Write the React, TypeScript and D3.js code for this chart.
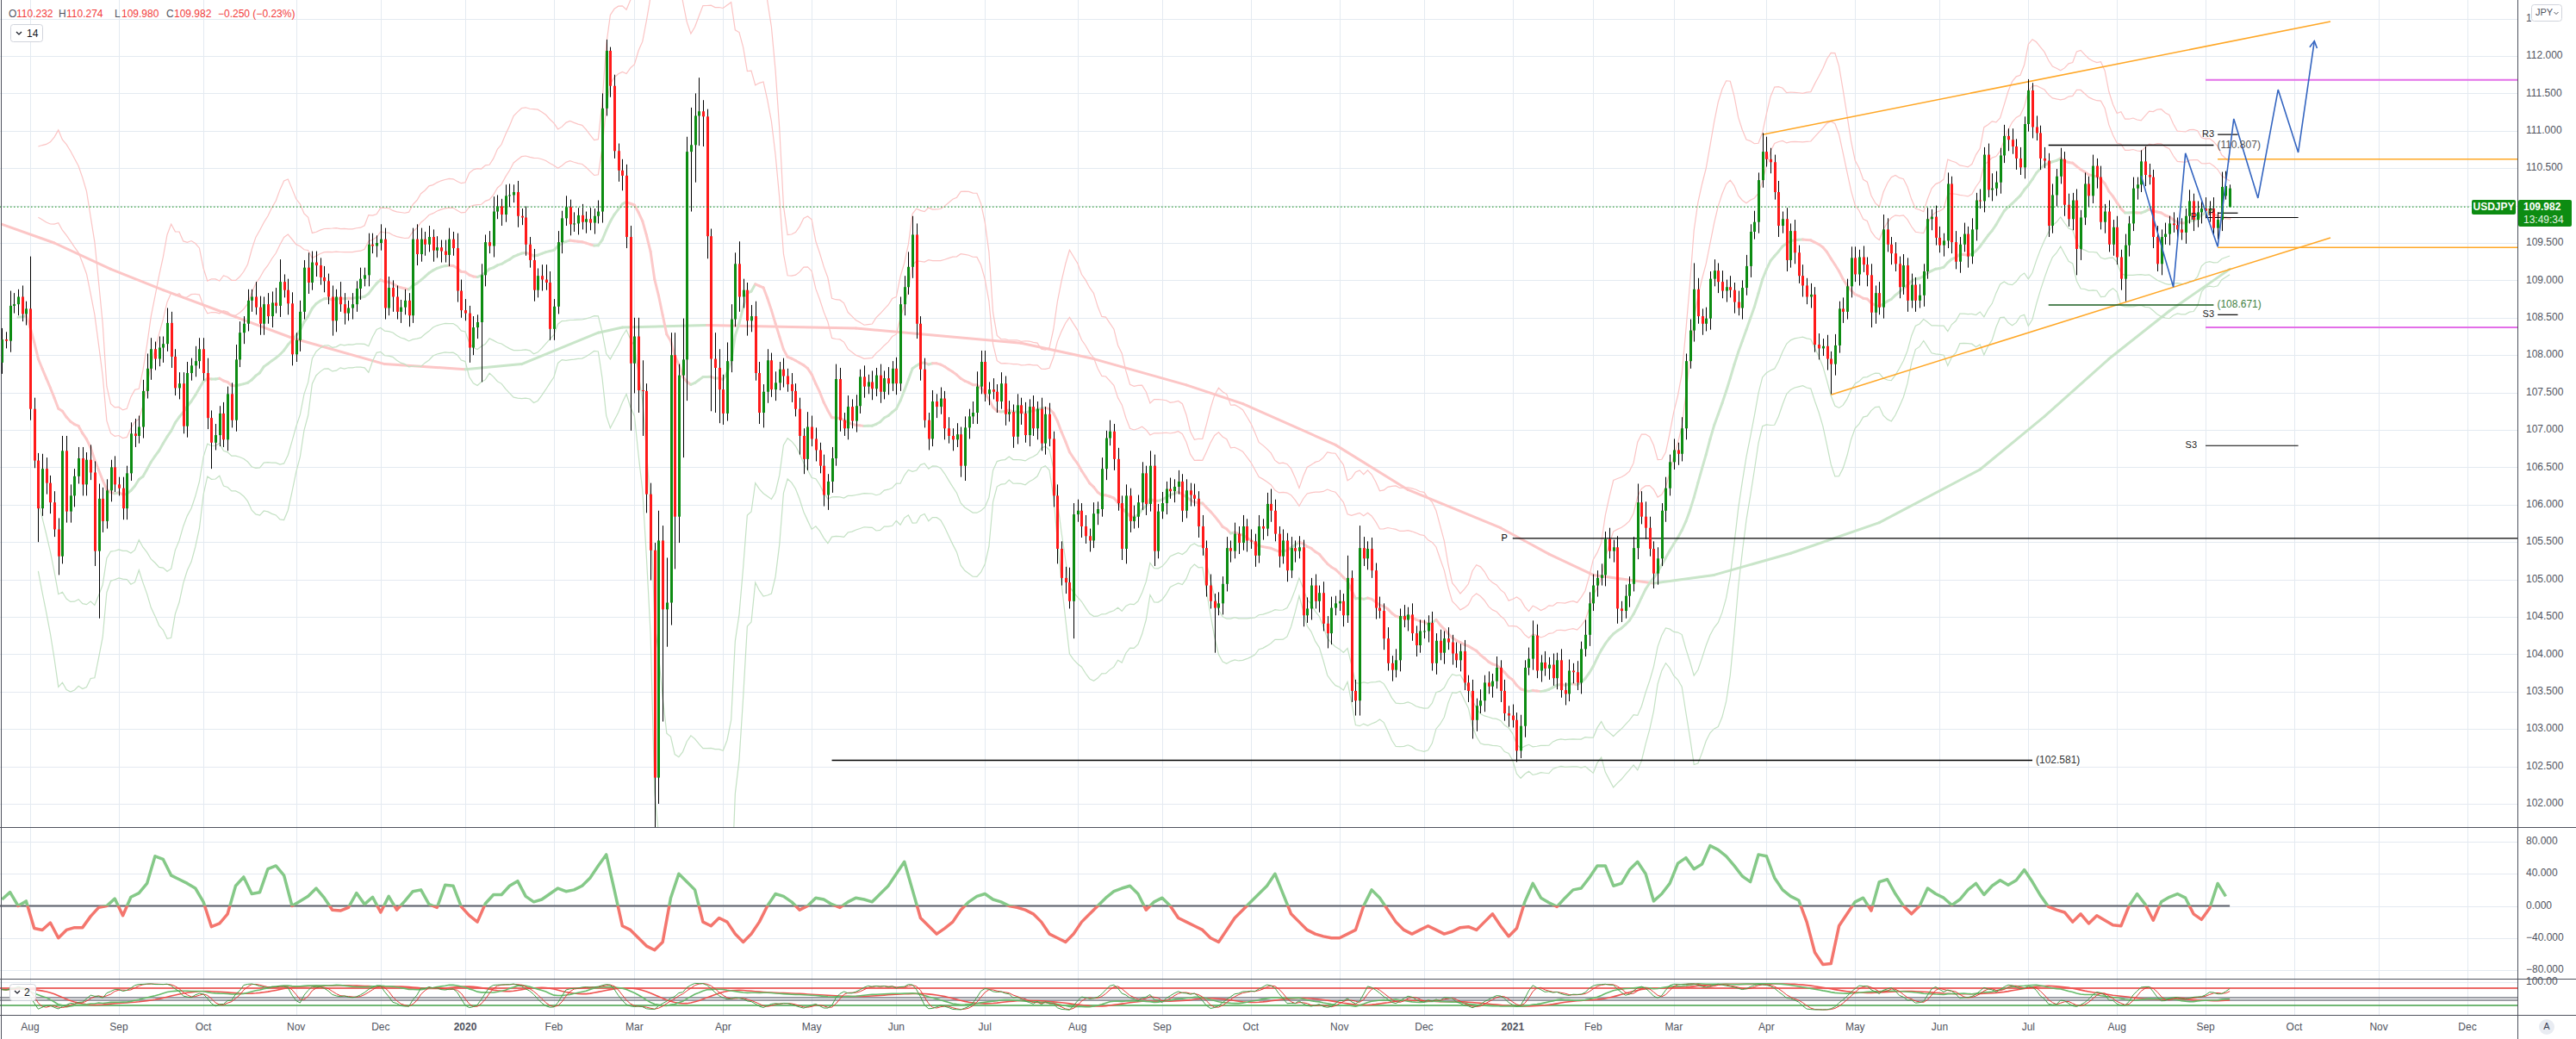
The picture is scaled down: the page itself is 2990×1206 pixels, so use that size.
import React from 'react';
import * as d3 from 'd3';

// ---------------- data ----------------
const firstBarDate = '2019-07-23';
const axisEndDate = '2021-12-31';
const firstOpen = 107.9;
const wickUnit = 0.05;

// daily closes, one sub-array per month (2019 starts in July)
const close2019 = [
  [108.21, 108.19, 108.66, 108.68, 108.78, 108.55, 108.62],
  [107.28, 106.59, 105.95, 106.48, 106.29, 106.03, 105.67, 105.31, 106.72, 105.91, 106.12, 106.38, 106.62, 106.27, 106.60, 106.43, 105.38, 106.08, 105.78, 106.19, 106.50, 106.27],
  [106.22, 105.95, 106.42, 106.95, 106.92, 107.04, 107.52, 107.82, 108.08, 107.95, 108.10, 108.15, 108.43, 107.98, 107.56, 107.62, 107.05, 107.76, 107.86, 107.92, 108.08],
  [107.76, 107.16, 106.83, 106.93, 107.22, 106.87, 107.48, 107.13, 107.94, 108.30, 108.42, 108.73, 108.78, 108.64, 108.42, 108.68, 108.52, 108.70, 108.66, 108.98, 108.87, 108.69, 108.01],
  [108.20, 108.58, 109.17, 108.97, 109.24, 109.20, 109.04, 108.99, 108.78, 108.46, 108.78, 108.68, 108.56, 108.63, 108.68, 108.89, 109.02, 109.07, 109.48, 109.46, 109.50],
  [109.55, 108.63, 108.90, 108.78, 108.58, 108.64, 108.73, 108.53, 109.55, 109.35, 109.55, 109.48, 109.58, 109.40, 109.44, 109.39, 109.34, 109.55, 109.43, 108.86, 108.60],
];
const upperWick2019 = ['3243232', 'e324323344323324343323', '232343343232432333243', '34232323432324323346233', '232433232324323232332', '433232323432323233243'];
const lowerWick2019 = ['3232323', '32923325233323324i3232', '233232323324232323232', '23723232323232332323233', '232323232432323232323', '232423232323232323232'];

const close2020 = [
  [108.56, 108.10, 108.37, 108.44, 109.07, 109.51, 109.46, 109.92, 109.99, 109.88, 110.13, 110.14, 110.18, 109.86, 109.84, 109.48, 109.27, 108.87, 109.06, 109.01, 108.97, 108.35],
  [108.65, 109.51, 109.83, 109.98, 109.75, 109.76, 109.87, 109.78, 109.82, 109.77, 109.86, 109.92, 111.30, 112.07, 111.60, 110.73, 110.47, 110.40, 109.58, 107.89],
  [108.25, 107.53, 107.52, 106.14, 105.39, 102.35, 105.52, 104.60, 104.69, 108.00, 105.84, 107.73, 107.94, 110.72, 110.81, 111.20, 111.26, 111.19, 109.59, 107.95, 107.83, 107.54],
  [107.22, 107.92, 108.48, 109.22, 108.78, 108.87, 108.46, 108.52, 107.76, 107.23, 107.51, 107.93, 107.54, 107.63, 107.81, 107.72, 107.61, 107.52, 107.28, 106.92, 106.61, 107.04],
  [106.88, 106.73, 106.52, 106.13, 106.31, 106.62, 107.68, 107.13, 107.02, 107.31, 107.12, 107.32, 107.71, 107.58, 107.64, 107.55, 107.73, 107.51, 107.69, 107.62, 107.82],
  [107.62, 108.68, 108.91, 109.18, 109.61, 108.42, 107.81, 107.13, 106.88, 107.38, 107.31, 107.42, 107.02, 106.92, 106.87, 106.94, 106.52, 107.03, 107.18, 107.23, 107.58, 107.91],
  [107.48, 107.54, 107.51, 107.38, 107.62, 107.21, 107.24, 106.91, 107.33, 107.22, 106.93, 107.31, 107.02, 107.28, 106.82, 107.21, 106.88, 106.12, 105.41, 105.02, 104.96, 104.71, 105.87],
  [105.92, 105.71, 105.58, 105.52, 105.88, 105.94, 106.48, 106.89, 106.98, 106.61, 106.02, 105.41, 106.12, 105.78, 105.84, 106.03, 106.42, 106.01, 106.52, 105.38, 105.91],
  [106.02, 106.21, 106.18, 106.24, 106.31, 105.92, 106.19, 106.13, 106.08, 105.71, 105.42, 104.92, 104.71, 104.62, 104.68, 104.94, 105.42, 105.38, 105.61, 105.49, 105.71, 105.52],
  [105.51, 105.32, 105.71, 105.68, 106.01, 105.92, 105.61, 105.31, 105.52, 105.12, 105.42, 105.38, 105.43, 104.52, 104.61, 104.92, 104.71, 104.82, 104.41, 104.28, 104.62, 104.68],
  [104.71, 104.52, 105.02, 103.51, 103.38, 105.42, 105.28, 105.41, 105.12, 104.62, 104.58, 104.21, 103.88, 103.79, 103.92, 104.51, 104.46, 104.53, 104.28, 104.12, 104.31],
  [104.31, 104.42, 103.88, 104.18, 104.02, 104.21, 104.16, 104.01, 103.92, 104.04, 103.62, 103.51, 103.12, 103.31, 103.38, 103.62, 103.57, 103.64, 103.82, 103.51, 103.21, 103.18],
];
const upperWick2020 = ['3232323432332323232343', '23232323232343132333', '55823284c663b4a6932275', '4543632343232323232324', '332323432323232323232', '3234532323232323232343', '32323232323232323232343', '323232323232323232432', '3232323232323232323232', '3232343232323232323232', '326236323232323232323', '3232323232323232323232'];
const lowerWick2020 = ['2423g32323232323232323', '3232323232323232343i', '86c58n7ua6e7mbga886ec9', '3232434323432323232543', '232343232323232323232', '3232343232323232343232', '2323232323232323234232a', '232323232323432323242', '2323232323232c23232323', '2323232323232323232432', '232344232323232323232', '2323232323235323232323'];

const close2021 = [
  [103.12, 102.71, 103.04, 103.82, 103.94, 104.25, 103.78, 103.89, 103.81, 103.86, 103.68, 103.92, 103.52, 103.47, 103.78, 103.76, 103.62, 104.07, 104.26, 104.68],
  [104.92, 105.02, 105.06, 105.54, 105.38, 105.43, 104.61, 104.58, 104.78, 104.94, 105.42, 106.03, 105.84, 105.69, 105.41, 105.08, 105.28, 105.92, 106.22, 106.57],
  [106.73, 106.68, 107.02, 107.92, 108.33, 108.88, 108.52, 108.42, 108.49, 109.02, 109.13, 108.98, 108.86, 108.91, 108.87, 108.71, 108.63, 108.90, 109.19, 109.65, 109.78, 110.34, 110.72],
  [110.62, 110.58, 110.18, 109.73, 109.82, 109.27, 109.66, 109.37, 109.06, 108.93, 108.78, 108.81, 108.14, 108.09, 108.12, 107.95, 107.88, 108.13, 108.62, 108.58, 108.92, 109.30],
  [109.08, 109.31, 109.21, 109.07, 108.57, 108.83, 108.64, 109.68, 109.48, 109.36, 109.22, 108.91, 109.20, 108.73, 108.94, 108.73, 108.80, 109.12, 109.82, 109.85, 109.57],
  [109.47, 109.53, 110.29, 109.51, 109.25, 109.48, 109.62, 109.32, 109.68, 110.07, 110.06, 110.68, 110.21, 110.23, 110.31, 110.67, 110.93, 110.88, 110.79, 110.63, 110.51, 111.09],
  [111.54, 111.05, 110.97, 110.63, 110.60, 109.73, 110.14, 110.39, 110.62, 110.01, 109.82, 110.07, 109.42, 109.84, 110.29, 110.13, 110.53, 110.38, 109.78, 109.92, 109.48, 109.71],
  [109.31, 109.02, 109.47, 109.76, 110.23, 110.28, 110.59, 110.41, 110.38, 109.58, 109.22, 109.58, 109.62, 109.76, 109.74, 109.68, 109.64, 109.86, 110.06, 109.81, 109.91, 109.96],
  [109.93, 109.96, 109.70, 109.81, 110.25, 110.26, 110.23],
];
const upperWick2021 = ['32323432323232323243', '32323232323534323232', '32323732323232323232325', '4323232323232323232323', '323232343232323232323', '3232323232323432323232', '3232323232323232323232', '3232323432323232323232', '3232441'];
const lowerWick2021 = ['23232323232323232323', '23232343232323243232', '23232323232323232323232', '2323232323232323832323', '232343232323232323232', '2323232323232323232323', '2323232323237323232323', '2363232323232323232323', '2323310'];

const openOverrides: [string, number][] = [['2021-09-08', 110.13], ['2021-09-09', 109.98]];

// header / last price
const headerKeys = ['O', 'H', 'L', 'C'];
const headerNums = ['110.232', '110.274', '109.980', '109.982'];
const headerChange = '\u22120.250 (\u22120.23%)';
const lastPrice = 109.982;
const lastPriceText = '109.982';
const countdownText = '13:49:34';
const symbolText = 'USDJPY';
const currencyText = 'JPY';

// oscillator (one value every 2 bars)
const oscPart1 = [8, 17, 0, 6, -28, -30, -21, -40, -30, -27, -27, -13, -2, 0, 9, -12, 11, 16, 28, 62, 58, 38, 33, 28, 22, 5, -26, -22, -10, 25, 36, 15, 17, 46, 50, 38, 0, 6, 12, 22, 10, -5, -6, -2, 16, 2, 11, -8, 12, -5, 6, 18, 20, 2, -2, 26, 25, -1, -12, -20, 3, 14, 14, 25, 31];
const oscPart2 = [12, 5, 8, 15, 22, 18, 20, 25, 35, 50, 64, 20, -25, -30, -40, -50, -55, -45, 10, 40, 30, 20, -20, -25, -15, -20, -35, -45, -35, -20, 0, 15, 12, 5, -5, 0, 10, 8, 2, -2, 5, 10, 8, 5, 15, 25, 40, 55, 20, -15, -25, -35, -28, -20, -5, 5, 12, 15, 8, 5, 0, -2, -5, -10, -20, -35, -40, -45, -35, -20, -10, 0, 10, 18, 22, 25, 15, -5, 5, 10, 0, -15, -20, -25, -30, -40, -45, -30, -15, -5, 5, 15, 25, 40, 15, -10, -20, -30, -35, -38, -40, -40, -35, -30, 0, 20, 10, -5, -20, -30, -35, -30, -25, -30, -35, -32];
const oscPart3 = [-27, -26, -30, -20, -10, -25, -38, -28, 5, 28, 10, 4, -1, 10, 20, 22, 35, 50, 50, 25, 28, 45, 55, 40, 6, 15, 28, 53, 60, 46, 52, 75, 70, 62, 50, 37, 30, 64, 62, 35, 20, 12, 7, -20, -58, -73, -72, -25, -10, 5, 10, -6, 30, 33, 15, 0, -10, 0, 22, 15, 10, 1, 8, 20, 28, 14, 25, 32, 26, 32, 45, 30, 13, -1, -5, -8, -20, -10, -22, -12, -18, -24, -25, 0, 15, 2, -18, 5, 11, 15, 10, -10, -17, -3, 28, 12];
const oscStepBars = 2;
const oscTicks = [80, 40, 0, -40, -80];

// long moving average
const longMaDates = ['2019-07-23', '2019-08-09', '2019-08-29', '2019-09-17', '2019-10-11', '2019-10-31', '2019-12-03', '2020-01-02', '2020-01-22', '2020-02-18', '2020-02-26', '2020-03-26', '2020-05-18', '2020-07-14', '2020-08-07', '2020-09-09', '2020-09-29', '2020-10-30', '2020-11-25', '2020-12-29', '2021-01-15', '2021-02-01', '2021-02-22', '2021-03-15', '2021-04-09', '2021-05-11', '2021-06-15', '2021-07-07', '2021-07-29', '2021-08-19', '2021-09-09'];
const longMaValues = [109.75, 109.5, 109.15, 108.87, 108.51, 108.23, 107.88, 107.81, 107.88, 108.3, 108.37, 108.4, 108.36, 108.16, 107.95, 107.6, 107.35, 106.8, 106.2, 105.69, 105.34, 105.06, 104.95, 105.06, 105.35, 105.76, 106.47, 107.18, 107.95, 108.59, 109.15];

// drawings
const channelUpperDates = ['2021-03-31', '2021-10-14'];
const channelUpperPrices = [110.95, 112.46];
const channelLowerDates = ['2021-04-23', '2021-10-14'];
const channelLowerPrices = [107.47, 109.57];
const zigzagDates = ['2021-08-10', '2021-08-20', '2021-08-25', '2021-09-06', '2021-09-10', '2021-09-20', '2021-09-27', '2021-10-04', '2021-10-08'];
const zigzagPrices = [110.4, 108.91, 110.7, 109.45, 111.16, 110.1, 111.55, 110.71, 112.2];
const orangeLevels = [110.62, 109.44];
const orangeFrom = '2021-09-06';
const magentaLevels = [111.68, 108.37];
const magentaFrom = '2021-09-01';
const rangeLevels = [110.807, 108.671];
const rangeFrom = '2021-07-08';
const rangeTo = '2021-09-03';
const lowLevel = 102.581;
const lowFrom = '2020-05-08';
const lowTo = '2021-07-02';
const pivotShortNames = ['R3', 'P', 'S3'];
const pivotShortPrices = [110.95, 109.9, 108.54];
const pivotShortFrom = '2021-09-06';
const pivotShortTo = '2021-09-13';
const pivotLongNames = ['P', 'S3'];
const pivotLongPrices = [109.84, 106.79];
const pivotLongFrom = '2021-09-01';
const pivotLongTo = '2021-10-04';
const yearPivot = 105.55;
const yearPivotFrom = '2021-01-04';
const stochLevels = [80, 47, 38, 20];

// ---------------- helpers ----------------
const iso = (d: Date) => d.toISOString().slice(0, 10);
function tradingDays(start: string, end: string) {
  const out: Date[] = [];
  const d = new Date(start + 'T00:00:00Z');
  const e = new Date(end + 'T00:00:00Z');
  while (d <= e) {
    const wd = d.getUTCDay();
    const m = d.getUTCMonth();
    const dd = d.getUTCDate();
    const hol = (m === 11 && dd === 25) || (m === 0 && dd === 1);
    if (wd !== 0 && wd !== 6 && !hol) out.push(new Date(d));
    d.setUTCDate(d.getUTCDate() + 1);
  }
  return out;
}

const W = 2990;
const H = 1206;
const AX = 2922;
const MAIN_B = 960;
const OSC_B = 1136;
const ST_B = 1178;
const GREEN = '#0d8c12';
const RED = '#ff1a1a';
const GRID = '#e4eaf1';
const TXT = '#50535e';
const FONT = 'Liberation Sans, Arial, sans-serif';

export default function App() {
  const days = tradingDays(firstBarDate, axisEndDate);
  const dayIndex = new Map<string, number>();
  days.forEach((d, i) => dayIndex.set(iso(d), i));
  const idx = (s: string) => {
    const d = new Date(s + 'T00:00:00Z');
    for (let k = 0; k < 10; k++) {
      const v = dayIndex.get(iso(d));
      if (v !== undefined) return v;
      d.setUTCDate(d.getUTCDate() + 1);
    }
    return 0;
  };
  const monthDays = d3.group(days.map((d, i) => ({ key: iso(d).slice(0, 7), i, date: iso(d) })), (e) => e.key);

  // bars
  const blocks = [
    { year: 2019, firstMonth: 7, closes: close2019, up: upperWick2019, dn: lowerWick2019 },
    { year: 2020, firstMonth: 1, closes: close2020, up: upperWick2020, dn: lowerWick2020 },
    { year: 2021, firstMonth: 1, closes: close2021, up: upperWick2021, dn: lowerWick2021 },
  ];
  const ovr = new Map(openOverrides);
  const bars: { i: number; date: string; o: number; h: number; l: number; c: number }[] = [];
  let prev = firstOpen;
  blocks.forEach((b) => {
    b.closes.forEach((arr, j) => {
      const key = `${b.year}-${String(b.firstMonth + j).padStart(2, '0')}`;
      const md = monthDays.get(key) || [];
      arr.forEach((c, k) => {
        const e = md[k];
        if (!e) return;
        const o = ovr.has(e.date) ? (ovr.get(e.date) as number) : prev;
        const hu = parseInt((b.up[j] || '')[k] || '2', 36) * wickUnit;
        const ld = parseInt((b.dn[j] || '')[k] || '2', 36) * wickUnit;
        bars.push({ i: e.i, date: e.date, o, c, h: Math.max(o, c) + hu, l: Math.min(o, c) - ld });
        prev = c;
      });
    });
  });

  const x = d3.scaleLinear().domain([0, idx('2021-12-01')]).range([2.3, 2864]);
  const y = d3.scaleLinear().domain([102, 112]).range([933, 65]);
  const yOsc = d3.scaleLinear().domain([-80, 80]).range([1126, 977]);
  const ySt = d3.scaleLinear().domain([0, 100]).range([1173.7, 1140.3]);
  const xd = (s: string) => x(idx(s));
  const lastX = x(bars[bars.length - 1].i);

  // month ticks
  const monthTicks: { x: number; label: string; year: boolean }[] = [];
  for (const [key, arr] of monthDays) {
    if (key < '2019-08') continue;
    const first = arr[0];
    const dt = new Date(first.date + 'T00:00:00Z');
    const isYear = dt.getUTCMonth() === 0;
    monthTicks.push({ x: x(first.i), label: isYear ? String(dt.getUTCFullYear()) : d3.utcFormat('%b')(dt), year: isYear });
  }
  const priceTicks = d3.range(102, 112.51, 0.5);

  // Bollinger bands (20) with 2 and 3 deviations
  const closes = bars.map((b) => b.c);
  const bb = bars.map((b, i) => {
    const w = closes.slice(Math.max(0, i - 19), i + 1);
    const m = d3.mean(w) as number;
    const sd = Math.sqrt(d3.mean(w, (v) => (v - m) ** 2) as number);
    return { i: b.i, m, sd, n: i };
  });
  const bbLine = (f: (p: { m: number; sd: number }) => number) =>
    d3.line<any>().x((p) => x(p.i)).y((p) => y(f(p)))(bb.filter((p) => p.n >= 9)) || '';

  // stochastic
  const sma = (arr: number[], n: number) => arr.map((_, i) => d3.mean(arr.slice(Math.max(0, i - n + 1), i + 1)) as number);
  const stoch = (len: number, sk: number, sd: number) => {
    const raw = bars.map((b, i) => {
      const w = bars.slice(Math.max(0, i - len + 1), i + 1);
      const hh = d3.max(w, (v) => v.h) as number;
      const ll = d3.min(w, (v) => v.l) as number;
      return hh - ll > 0 ? (100 * (b.c - ll)) / (hh - ll) : 50;
    });
    const k = sma(raw, sk);
    return { k, d: sma(k, sd) };
  };
  const fast = stoch(14, 3, 3);
  const slow = stoch(60, 10, 10);
  const stLine = (vals: number[]) => d3.line<number>().x((_, i) => x(bars[i].i)).y((v) => ySt(v))(vals) || '';

  // oscillator
  const osc = [...oscPart1, ...oscPart2, ...oscPart3];
  const oscPath = d3.line<number>().x((_, k) => x(k * oscStepBars)).y((v) => yOsc(v))(osc) || '';

  // slope-coloured segments
  const slopeSegs = (pts: { x: number; v: number }[]) =>
    pts.slice(1).map((p, k) => ({ x1: pts[k].x, y1: y(pts[k].v), x2: p.x, y2: y(p.v), up: p.v >= pts[k].v }));
  const basisSegs = slopeSegs(bb.filter((p) => p.n >= 4).map((p) => ({ x: x(p.i), v: p.m })));
  const longSegs = slopeSegs(longMaDates.map((d, k) => ({ x: xd(d), v: longMaValues[k] })));

  const zz = zigzagDates.map((d, k) => [xd(d), y(zigzagPrices[k])] as [number, number]);
  const zzEnd = zz[zz.length - 1];
  const zzPrev = zz[zz.length - 2];
  const ang = Math.atan2(zzEnd[1] - zzPrev[1], zzEnd[0] - zzPrev[0]);
  const ah = 9;
  const arrow = `M${zzEnd[0] + ah * Math.cos(ang + Math.PI - 0.5)},${zzEnd[1] + ah * Math.sin(ang + Math.PI - 0.5)}L${zzEnd[0]},${zzEnd[1]}L${zzEnd[0] + ah * Math.cos(ang + Math.PI + 0.5)},${zzEnd[1] + ah * Math.sin(ang + Math.PI + 0.5)}`;

  const yLast = y(lastPrice);
  const y0 = yOsc(0);

  return (
    <svg width={W} height={H} style={{ position: 'absolute', left: 0, top: 0, display: 'block' }} fontFamily={FONT}>
      <defs>
        <clipPath id="cMain"><rect x={0} y={0} width={AX} height={MAIN_B} /></clipPath>
        <clipPath id="cOscUp"><rect x={0} y={MAIN_B} width={AX} height={y0 - MAIN_B} /></clipPath>
        <clipPath id="cOscDn"><rect x={0} y={y0} width={AX} height={OSC_B - y0} /></clipPath>
        <clipPath id="cSt"><rect x={0} y={OSC_B} width={AX} height={ST_B - OSC_B} /></clipPath>
        <clipPath id="cTopLabel"><rect x={AX} y={0} width={2938 - AX} height={40} /></clipPath>
      </defs>
      <rect x={0} y={0} width={W} height={H} fill="#ffffff" />

      {/* grid */}
      {monthTicks.map((t, k) => (
        <line key={'vg' + k} x1={Math.round(t.x) + 0.5} x2={Math.round(t.x) + 0.5} y1={0} y2={ST_B} stroke={GRID} strokeWidth={1} />
      ))}
      {priceTicks.map((p, k) => (
        <line key={'hg' + k} x1={0} x2={AX} y1={Math.round(y(p)) + 0.5} y2={Math.round(y(p)) + 0.5} stroke={GRID} />
      ))}
      {oscTicks.map((v, k) => (
        <line key={'og' + k} x1={0} x2={AX} y1={Math.round(yOsc(v)) + 0.5} y2={Math.round(yOsc(v)) + 0.5} stroke={GRID} />
      ))}
      <line x1={0} x2={AX} y1={Math.round(ySt(100)) + 0.5} y2={Math.round(ySt(100)) + 0.5} stroke={GRID} />

      {/* indicators on main pane */}
      <g clipPath="url(#cMain)" fill="none">
        {longSegs.map((s, k) => (
          <line key={'lm' + k} x1={s.x1} y1={s.y1} x2={s.x2} y2={s.y2} stroke={s.up ? '#c9e5c9' : '#fcc6c6'} strokeWidth={3} strokeLinecap="round" />
        ))}
        {basisSegs.map((s, k) => (
          <line key={'bs' + k} x1={s.x1} y1={s.y1} x2={s.x2} y2={s.y2} stroke={s.up ? '#cce6cc' : '#fcc9c9'} strokeWidth={3} strokeLinecap="round" />
        ))}
        <path d={bbLine((p) => p.m + 2 * p.sd)} stroke="#fbc4c4" strokeWidth={1.2} />
        <path d={bbLine((p) => p.m + 3 * p.sd)} stroke="#fbc4c4" strokeWidth={1.2} />
        <path d={bbLine((p) => p.m - 2 * p.sd)} stroke="#c4e1c4" strokeWidth={1.2} />
        <path d={bbLine((p) => p.m - 3 * p.sd)} stroke="#c4e1c4" strokeWidth={1.2} />

        {/* drawings */}
        <line x1={xd(yearPivotFrom)} x2={AX} y1={y(yearPivot)} y2={y(yearPivot)} stroke="#000" strokeWidth={1.2} />
        <line x1={xd(lowFrom)} x2={xd(lowTo)} y1={y(lowLevel)} y2={y(lowLevel)} stroke="#000" strokeWidth={1.5} />
        <line x1={xd(channelUpperDates[0])} y1={y(channelUpperPrices[0])} x2={xd(channelUpperDates[1])} y2={y(channelUpperPrices[1])} stroke="#ffa726" strokeWidth={1.5} />
        <line x1={xd(channelLowerDates[0])} y1={y(channelLowerPrices[0])} x2={xd(channelLowerDates[1])} y2={y(channelLowerPrices[1])} stroke="#ffa726" strokeWidth={1.5} />
        {orangeLevels.map((p, k) => (
          <line key={'or' + k} x1={xd(orangeFrom)} x2={AX} y1={y(p)} y2={y(p)} stroke="#ffa726" strokeWidth={1.5} />
        ))}
        {magentaLevels.map((p, k) => (
          <line key={'mg' + k} x1={xd(magentaFrom)} x2={AX} y1={y(p)} y2={y(p)} stroke="#e36fe8" strokeWidth={2} />
        ))}
        <line x1={xd(rangeFrom)} x2={xd(rangeTo)} y1={y(rangeLevels[0])} y2={y(rangeLevels[0])} stroke="#000" strokeWidth={1.5} />
        <line x1={xd(rangeFrom)} x2={xd(rangeTo)} y1={y(rangeLevels[1])} y2={y(rangeLevels[1])} stroke="#1b5e20" strokeWidth={1.5} />
        {pivotLongPrices.map((p, k) => (
          <line key={'pl' + k} x1={xd(pivotLongFrom)} x2={xd(pivotLongTo)} y1={y(p)} y2={y(p)} stroke="#000" strokeWidth={1.2} />
        ))}
        {pivotShortPrices.map((p, k) => (
          <line key={'ps' + k} x1={xd(pivotShortFrom)} x2={xd(pivotShortTo)} y1={y(p)} y2={y(p)} stroke="#000" strokeWidth={1.2} />
        ))}

        {/* candles */}
        {bars.map((b) => {
          const cx = Math.round(x(b.i));
          const up = b.c >= b.o;
          const top = y(Math.max(b.o, b.c));
          const bot = y(Math.min(b.o, b.c));
          return (
            <g key={b.date}>
              <line x1={cx + 0.5} x2={cx + 0.5} y1={y(b.h)} y2={y(b.l)} stroke="#000" strokeWidth={1} />
              <rect x={cx - 1} y={top} width={3} height={Math.max(1, bot - top)} fill={up ? GREEN : RED} />
            </g>
          );
        })}

        <path d={d3.line()(zz) || ''} stroke="#3465c0" strokeWidth={1.6} fill="none" />
        <path d={arrow} stroke="#3465c0" strokeWidth={1.6} fill="none" />
        <line x1={0} x2={2868} y1={yLast} y2={yLast} stroke="#0d8c12" strokeWidth={1} strokeDasharray="1.5 2.5" />
      </g>

      {/* drawing labels */}
      <g fontSize={12}>
        <text x={xd(yearPivotFrom) - 6} y={y(yearPivot) + 0.5} textAnchor="end" dominantBaseline="middle" fill="#000" fontSize={11}>P</text>
        <text x={xd(lowTo) + 4} y={y(lowLevel)} dominantBaseline="middle" fill="#333">(102.581)</text>
        <text x={xd(rangeTo) + 4} y={y(rangeLevels[0])} dominantBaseline="middle" fill="#555">(110.807)</text>
        <text x={xd(rangeTo) + 4} y={y(rangeLevels[1])} dominantBaseline="middle" fill="#3f7f3f">(108.671)</text>
        {pivotShortNames.map((n, k) => (
          <text key={'psn' + k} x={xd(pivotShortFrom) - 4} y={y(pivotShortPrices[k])} textAnchor="end" dominantBaseline="middle" fill="#222" fontSize={11}>{n}</text>
        ))}
        {pivotLongNames.map((n, k) => (
          <text key={'pln' + k} x={xd(pivotLongFrom) - 10} y={y(pivotLongPrices[k])} textAnchor="end" dominantBaseline="middle" fill="#222" fontSize={11}>{n}</text>
        ))}
      </g>

      {/* oscillator pane */}
      <line x1={0} x2={lastX} y1={y0} y2={y0} stroke="#5d606b" strokeWidth={2} />
      <path d={oscPath} fill="none" stroke="#85c988" strokeWidth={3.5} strokeLinejoin="round" clipPath="url(#cOscUp)" />
      <path d={oscPath} fill="none" stroke="#f4766e" strokeWidth={3.5} strokeLinejoin="round" clipPath="url(#cOscDn)" />

      {/* stochastic pane */}
      <g clipPath="url(#cSt)" fill="none">
        {stochLevels.map((v, k) => (
          <line key={'sl' + k} x1={0} x2={AX} y1={ySt(v)} y2={ySt(v)} stroke={k === 0 ? '#e53935' : k === 3 ? '#43a047' : '#7b7e87'} strokeWidth={1.5} />
        ))}
        <path d={stLine(slow.d)} stroke="#ef5350" strokeWidth={1.6} />
        <path d={stLine(slow.k)} stroke="#66bb6a" strokeWidth={1.6} />
        <path d={stLine(fast.d)} stroke="#e53935" strokeWidth={1} />
        <path d={stLine(fast.k)} stroke="#43a047" strokeWidth={1} />
      </g>

      {/* pane separators and axis */}
      <line x1={1.5} x2={1.5} y1={0} y2={H} stroke="#50535e" />
      <line x1={AX + 0.5} x2={AX + 0.5} y1={0} y2={H} stroke="#50535e" />
      {[MAIN_B, OSC_B, ST_B].map((v, k) => (
        <line key={'sep' + k} x1={0} x2={W} y1={v + 0.5} y2={v + 0.5} stroke="#50535e" strokeWidth={1.2} />
      ))}

      {/* price axis labels */}
      <g fontSize={12} fill={TXT}>
        {priceTicks.map((p, k) => (
          <text key={'pl' + k} x={2932} y={y(p)} dominantBaseline="middle" clipPath={p > 112.2 ? 'url(#cTopLabel)' : undefined}>{d3.format('.3f')(p)}</text>
        ))}
        {oscTicks.map((v, k) => (
          <text key={'ol' + k} x={2932} y={yOsc(v)} dominantBaseline="middle">{d3.format('.3f')(v).replace('-', '\u2212')}</text>
        ))}
        <text x={2932} y={ySt(100)} dominantBaseline="middle">100.00</text>
      </g>

      {/* time axis */}
      <g fontSize={12} fill={TXT} textAnchor="middle">
        {monthTicks.map((t, k) => (
          <text key={'tl' + k} x={t.x} y={1193} dominantBaseline="middle" fontWeight={t.year ? 'bold' : 'normal'}>{t.label}</text>
        ))}
      </g>

      {/* last price labels */}
      <rect x={2869} y={232} width={51} height={17} rx={2} fill={GREEN} />
      <text x={2894.5} y={241} textAnchor="middle" dominantBaseline="middle" fill="#fff" fontSize={12} fontWeight="bold">{symbolText}</text>
      <rect x={2923} y={232} width={62} height={31} rx={2} fill={GREEN} />
      <text x={2929} y={241} dominantBaseline="middle" fill="#fff" fontSize={12} fontWeight="bold">{lastPriceText}</text>
      <text x={2929} y={255.5} dominantBaseline="middle" fill="#e6f3e6" fontSize={12}>{countdownText}</text>

      {/* currency button */}
      <rect x={2938.5} y={5.5} width={35} height={19} rx={3} fill="#fff" stroke="#d1d4dc" />
      <text x={2943} y={15.5} dominantBaseline="middle" fill={TXT} fontSize={11}>{currencyText}</text>
      <path d="M2964.5,14 l2.5,2.5 l2.5,-2.5" stroke={TXT} fill="none" strokeWidth={1} />

      {/* header legend */}
      <g fontSize={12}>
        {headerKeys.map((k, n) => (
          <g key={'hk' + n}>
            <text x={[10, 68, 133, 193][n]} y={20} fill={TXT}>{k}</text>
            <text x={[19, 77, 141, 202][n]} y={20} fill="#f23b3b">{headerNums[n]}</text>
          </g>
        ))}
        <text x={253} y={20} fill="#f23b3b">{headerChange}</text>
      </g>
      <rect x={12.5} y={28.5} width={37} height={20} rx={3} fill="#fff" stroke="#d1d4dc" />
      <path d="M19,37 l3,3 l3,-3" stroke="#131722" fill="none" strokeWidth={1.2} />
      <text x={31} y={43} fill="#131722" fontSize={12}>14</text>
      <rect x={11.5} y={1142.5} width={30} height={19} rx={3} fill="#fff" fillOpacity={0.85} stroke="#d1d4dc" />
      <path d="M17,1150 l3,3 l3,-3" stroke="#131722" fill="none" strokeWidth={1.2} />
      <text x={28} y={1156} fill="#131722" fontSize={12}>2</text>

      {/* auto-scale button */}
      <circle cx={2956} cy={1192} r={9} fill="#e9ecf2" />
      <text x={2956} y={1192.5} textAnchor="middle" dominantBaseline="middle" fill="#3b4256" fontSize={11}>A</text>
    </svg>
  );
}
